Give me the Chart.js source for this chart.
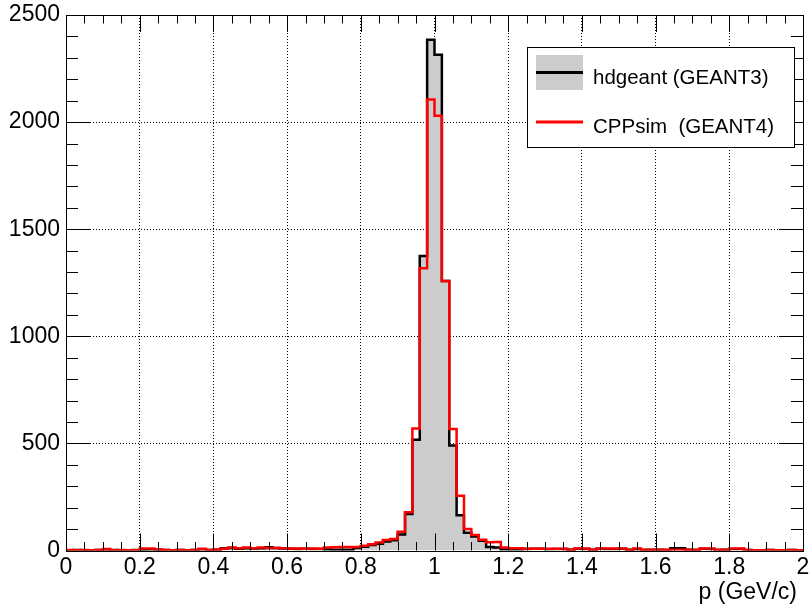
<!DOCTYPE html>
<html>
<head>
<meta charset="utf-8">
<script src="https://cdn.jsdelivr.net/npm/chart.js@4/dist/chart.umd.min.js"></script>
<style>
  html, body { margin: 0; padding: 0; background: #fff; }
</style>
</head>
<body>
<canvas id="histo" width="809" height="605"></canvas>
<script>
// histogram binning: 100 bins of 0.02 between 0 and 2 GeV/c
var xMin = 0, xMax = 2, binWidth = 0.02;

var xTicks = [0, 0.2, 0.4, 0.6, 0.8, 1, 1.2, 1.4, 1.6, 1.8, 2];
var xTickLabels = ['0', '0.2', '0.4', '0.6', '0.8', '1', '1.2', '1.4', '1.6', '1.8', '2'];
var yTicks = [0, 500, 1000, 1500, 2000, 2500];
var yTickLabels = ['0', '500', '1000', '1500', '2000', '2500'];
var xTitle = 'p (GeV/c)';

var seriesNames = ['hdgeant (GEANT3)', 'CPPsim  (GEANT4)'];

// bin contents
var hdgeant = [
  1, 2, 1, 1, 2, 1, 2, 1, 1, 2,
  4, 5, 3, 2, 1, 2, 1, 2, 5, 2,
  3, 10, 12, 8, 11, 9, 11, 15, 12, 9,
  8, 7, 8, 7, 7, 5, 4, 4, 4, 12,
  18, 26, 32, 42, 48, 75, 170, 517, 1375, 2385,
  2315, 1258, 490, 165, 83, 65, 45, 16, 14, 5,
  5, 5, 7, 8, 8, 6, 7, 7, 3, 8,
  7, 3, 8, 7, 7, 8, 3, 7, 2, 3,
  3, 2, 10, 10, 3, 2, 8, 7, 2, 3,
  7, 7, 2, 1, 1, 2, 1, 1, 2, 1
];
var cppsim = [
  2, 1, 2, 1, 2, 7, 1, 2, 1, 1,
  9, 9, 6, 2, 1, 2, 1, 2, 8, 2,
  5, 8, 14, 10, 14, 11, 14, 12, 12, 10,
  9, 9, 8, 9, 8, 14, 15, 16, 16, 16,
  22, 29, 37, 49, 54, 88, 178, 570, 1318, 2105,
  2030, 1258, 567, 256, 100, 72, 50, 38, 40, 14,
  10, 10, 8, 8, 8, 8, 8, 8, 3, 9,
  9, 3, 9, 9, 9, 9, 3, 9, 3, 3,
  3, 3, 3, 3, 3, 3, 9, 9, 3, 3,
  9, 9, 2, 1, 1, 2, 1, 1, 2, 1
];

function toSteps(values) {
  var pts = values.map(function (v, i) { return { x: xMin + i * binWidth, y: v }; });
  pts.push({ x: xMax, y: values[values.length - 1] });
  return pts;
}

function gridColor(ctx) {
  var s = ctx.scale;
  if (!ctx.tick) return 'transparent';
  return (ctx.tick.value <= s.min || ctx.tick.value >= s.max) ? 'transparent' : '#000';
}

var FONT = "'Liberation Sans', Arial, Helvetica, sans-serif";

// ROOT-like frame, inner tick marks, axis title and legend box
var rootFrame = {
  id: 'rootFrame',
  afterDatasetsDraw: function (chart) {
    var c = chart.ctx, a = chart.chartArea;
    var xs = chart.scales.x, ys = chart.scales.y;
    c.save();
    c.strokeStyle = '#000';
    c.lineWidth = 1;
    c.beginPath();
    var k, v, px, len;
    for (k = 0; k <= 40; k++) {
      v = k * 0.05;
      px = Math.round(xs.getPixelForValue(v)) + 0.5;
      len = (k % 4 === 0) ? 17 : 8.5;
      c.moveTo(px, a.bottom); c.lineTo(px, a.bottom - len);
      c.moveTo(px, a.top); c.lineTo(px, a.top + len);
    }
    for (k = 0; k <= 25; k++) {
      v = k * 100;
      px = Math.round(ys.getPixelForValue(v)) + 0.5;
      len = (k % 5 === 0) ? 24 : 12;
      c.moveTo(a.left, px); c.lineTo(a.left + len, px);
      c.moveTo(a.right, px); c.lineTo(a.right - len, px);
    }
    c.stroke();
    c.strokeRect(Math.round(a.left) + 0.5, Math.round(a.top) + 0.5,
      Math.round(a.right) - Math.round(a.left), Math.round(a.bottom) - Math.round(a.top));

    // x axis title, right aligned like ROOT
    c.fillStyle = '#000';
    c.font = '23px ' + FONT;
    c.textAlign = 'right';
    c.textBaseline = 'alphabetic';
    c.fillText(xTitle, a.right - 6, 599);

    // legend
    var ds = chart.data.datasets;
    var black = ds[1], red = ds[0];
    c.textAlign = 'left';
    c.fillStyle = '#fff';
    c.fillRect(527, 47, 267, 100);
    c.strokeRect(527.5, 47.5, 267, 100);
    c.fillStyle = black.backgroundColor;
    c.fillRect(536, 55, 47, 35);
    c.lineWidth = 3;
    c.strokeStyle = black.borderColor;
    c.beginPath(); c.moveTo(536, 72.5); c.lineTo(583, 72.5); c.stroke();
    c.strokeStyle = red.borderColor;
    c.beginPath(); c.moveTo(536, 122); c.lineTo(583, 122); c.stroke();
    c.fillStyle = '#000';
    c.font = '20.5px ' + FONT;
    c.fillText(black.label, 593, 84);
    c.fillText(red.label, 593, 132.5);
    c.restore();
  }
};

Chart.defaults.font.family = FONT;
Chart.defaults.color = '#000';

var ctxHisto = document.getElementById('histo');

new Chart(ctxHisto, {
  type: 'line',
  data: {
    datasets: [
      {
        label: seriesNames[1],
        data: toSteps(cppsim),
        borderColor: '#ff0000',
        borderWidth: 2.5,
        stepped: true,
        pointRadius: 0,
        fill: false,
        order: 0
      },
      {
        label: seriesNames[0],
        data: toSteps(hdgeant),
        borderColor: '#000000',
        backgroundColor: '#cccccc',
        borderWidth: 2.5,
        stepped: true,
        pointRadius: 0,
        fill: 'origin',
        order: 1
      }
    ]
  },
  options: {
    responsive: false,
    animation: false,
    layout: { padding: { top: 15, right: 6, left: 0, bottom: 0 } },
    plugins: { legend: { display: false }, tooltip: { enabled: false } },
    scales: {
      x: {
        type: 'linear',
        min: xMin,
        max: xMax,
        afterBuildTicks: function (s) { s.ticks = xTicks.map(function (v) { return { value: v }; }); },
        afterFit: function (s) { s.height = 54.5; s.paddingLeft = 0; s.paddingRight = 0; },
        ticks: {
          font: { size: 23 },
          padding: 3,
          maxRotation: 0,
          autoSkip: false,
          callback: function (v, i) { return xTickLabels[i]; }
        },
        grid: { color: gridColor, drawTicks: false, lineWidth: 1 },
        border: { display: false, dash: [1, 2] }
      },
      y: {
        type: 'linear',
        min: 0,
        max: 2500,
        afterBuildTicks: function (s) { s.ticks = yTicks.map(function (v) { return { value: v }; }); },
        afterFit: function (s) { s.width = 66; s.paddingTop = 0; s.paddingBottom = 0; },
        ticks: {
          font: { size: 23 },
          padding: 6,
          autoSkip: false,
          callback: function (v, i) { return yTickLabels[i]; }
        },
        grid: { color: gridColor, drawTicks: false, lineWidth: 1 },
        border: { display: false, dash: [1, 2] }
      }
    }
  },
  plugins: [rootFrame]
});
</script>
</body>
</html>
